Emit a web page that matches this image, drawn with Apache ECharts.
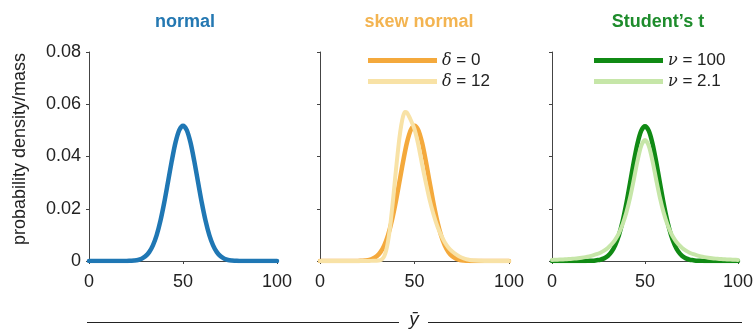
<!DOCTYPE html>
<html>
<head>
<meta charset="utf-8">
<script src="https://cdn.jsdelivr.net/npm/echarts@6/dist/echarts.min.js"></script>
<style>
    html, body { margin: 0; padding: 0; background: #fff; }
    #chart { width: 756px; height: 331px; }
</style>
</head>
<body>
<div id="chart"></div>
<script>
    // x grid (step 2) shared by most curves
    const xs = [0, 2, 4, 6, 8, 10, 12, 14, 16, 18, 20, 22, 24, 26, 28, 30, 32, 34, 36, 38, 40, 42, 44, 46, 48, 50,
        52, 54, 56, 58, 60, 62, 64, 66, 68, 70, 72, 74, 76, 78, 80, 82, 84, 86, 88, 90, 92, 94, 96, 98, 100];

    const normalY = [0, 0, 0, 0, 0, 0, 0, 0, 0, 0, 0, 0.0001, 0.0002, 0.0004, 0.0009, 0.0018, 0.0034, 0.0060, 0.0099, 0.0154,
        0.0223, 0.0302, 0.0382, 0.0453, 0.0501, 0.0518, 0.0501, 0.0453, 0.0382, 0.0302, 0.0223, 0.0154, 0.0099, 0.0060,
        0.0034, 0.0018, 0.0009, 0.0004, 0.0002, 0.0001, 0, 0, 0, 0, 0, 0, 0, 0, 0, 0, 0];

    const skew0Y = [0, 0, 0, 0, 0, 0, 0, 0, 0, 0, 0, 0.0001, 0.0002, 0.0004, 0.0009, 0.0018, 0.0034, 0.0060, 0.0099, 0.0154,
        0.0223, 0.0302, 0.0382, 0.0453, 0.0501, 0.0518, 0.0501, 0.0453, 0.0382, 0.0302, 0.0223, 0.0154, 0.0099, 0.0060,
        0.0034, 0.0018, 0.0009, 0.0004, 0.0002, 0.0001, 0, 0, 0, 0, 0, 0, 0, 0, 0, 0, 0];

    // skew normal delta = 12 has its own, denser x points round the peak
    const skew12X = [0, 10, 20, 26, 28, 30, 32, 33, 34, 35, 36, 37, 38, 39, 40, 41, 42, 43, 44, 45, 46, 47, 48,
        50, 52, 54, 56, 58, 60, 62, 64, 66, 68, 70, 72, 74, 76, 78, 80, 84, 90, 100];
    const skew12Y = [0, 0, 0, 0, 0.0001, 0.0001, 0.0003, 0.0008, 0.0018, 0.004, 0.0075, 0.0125, 0.019, 0.026, 0.0335,
        0.0405, 0.047, 0.052, 0.0555, 0.057, 0.0568, 0.0555, 0.054, 0.0505, 0.0445, 0.037, 0.030, 0.0234, 0.018, 0.0135,
        0.010, 0.0072, 0.0051, 0.0036, 0.0025, 0.0016, 0.001, 0.0006, 0.0003, 0.0001, 0, 0];

    const t100Y = [0, 0, 0, 0, 0, 0, 0, 0, 0, 0, 0.0001, 0.0001, 0.0003, 0.0005, 0.001, 0.0019, 0.0035, 0.0061, 0.0099, 0.0153,
        0.0221, 0.0300, 0.0380, 0.0451, 0.0499, 0.0516, 0.0499, 0.0451, 0.0380, 0.0300, 0.0221, 0.0153, 0.0099, 0.0061,
        0.0035, 0.0019, 0.001, 0.0005, 0.0003, 0.0001, 0.0001, 0, 0, 0, 0, 0, 0, 0, 0, 0, 0];

    const t21Y = [0.00041, 0.00046, 0.00053, 0.0006, 0.00068, 0.00079, 0.00091, 0.00106, 0.00125, 0.00148, 0.00177,
        0.00213, 0.00259, 0.00318, 0.00396, 0.0050, 0.00635, 0.0082, 0.0107, 0.0141, 0.0186, 0.0243, 0.0312, 0.0384,
        0.0441, 0.0463, 0.0441, 0.0384, 0.0312, 0.0243, 0.0186, 0.0141, 0.0107, 0.0082, 0.00635, 0.0050, 0.00396,
        0.00318, 0.00259, 0.00213, 0.00177, 0.00148, 0.00125, 0.00106, 0.00091, 0.00079, 0.00068, 0.0006, 0.00053,
        0.00046, 0.00041];

    const xTicks = [0, 50, 100];
    const titles = ['normal', 'skew normal', 'Student\u2019s t'];

    const FONT = 'Liberation Sans, Arial, sans-serif';
    const AXIS = '#444';

    function pairs(x, y) {
        return x.map((v, i) => [v, y[i]]);
    }

    const grids = [
        {left: 89, top: 52, width: 188, height: 209},
        {left: 320, top: 52, width: 189, height: 209},
        {left: 552, top: 52, width: 188, height: 209}
    ];

    const xAxes = grids.map((g, i) => ({
        type: 'value', gridIndex: i, min: 0, max: 100, interval: 50,
        axisLine: {lineStyle: {color: AXIS, width: 1}},
        axisTick: {length: 3, lineStyle: {color: AXIS}},
        axisLabel: {fontSize: 18, color: '#222', fontFamily: FONT, margin: 12,
            formatter: v => xTicks.indexOf(v) >= 0 ? String(v) : ''},
        splitLine: {show: false}
    }));

    const yAxes = grids.map((g, i) => ({
        type: 'value', gridIndex: i, min: 0, max: 0.08, interval: 0.02,
        axisLine: {show: true, lineStyle: {color: AXIS, width: 1}},
        axisTick: {show: true, length: 3, lineStyle: {color: AXIS}},
        axisLabel: {show: i === 0, fontSize: 18, color: '#222', fontFamily: FONT, margin: 8},
        splitLine: {show: false}
    }));

    function curve(name, i, data, color, width, z) {
        return {
            name: name, type: 'line', xAxisIndex: i, yAxisIndex: i,
            data: data, showSymbol: false, smooth: 0.3, z: z,
            lineStyle: {color: color, width: width, cap: 'round', join: 'round'},
            itemStyle: {color: color},
            emphasis: {disabled: true}
        };
    }

    const C = {
        normal: '#1f77b4',
        skew0: '#f4a93c',
        skew12: '#f8e2a6',
        t100: '#108a14',
        t21: '#c6e6a8'
    };

    function legend(left, names) {
        return {
            left: left, top: 47, orient: 'vertical', selectedMode: false,
            data: names, icon: 'rect', itemWidth: 69, itemHeight: 5, itemGap: 4,
            textStyle: {fontSize: 17, color: '#222', fontFamily: FONT,
                rich: {i: {fontStyle: 'italic', fontFamily: 'DejaVu Serif, serif', fontSize: 16, color: '#222'}}},
            formatter: n => n.replace(/^([\u03b4\u03bd])/, '{i|$1}')
        };
    }

    const chart = echarts.init(document.getElementById('chart'), null, {renderer: 'canvas'});
    chart.setOption({
        animation: false,
        title: titles.map((t, i) => ({
            text: t, left: [180, 414, 653][i], top: 8, textAlign: 'center',
            textStyle: {fontSize: 18, fontWeight: 'bold', fontFamily: FONT,
                color: ['#2478b2', '#f3b451', '#1e8c2c'][i]}
        })),
        grid: grids,
        xAxis: xAxes,
        yAxis: yAxes,
        legend: [
            legend(363, ['\u03b4 = 0', '\u03b4 = 12']),
            legend(589, ['\u03bd = 100', '\u03bd = 2.1'])
        ],
        series: [
            curve('normal', 0, pairs(xs, normalY), C.normal, 4.5, 3),
            curve('\u03b4 = 0', 1, pairs(xs, skew0Y), C.skew0, 4.5, 3),
            curve('\u03b4 = 12', 1, pairs(skew12X, skew12Y), C.skew12, 4, 4),
            curve('\u03bd = 100', 2, pairs(xs, t100Y), C.t100, 4.5, 3),
            curve('\u03bd = 2.1', 2, pairs(xs, t21Y), C.t21, 4, 4)
        ],
        graphic: [
            {type: 'text', x: 20, y: 149, rotation: Math.PI / 2,
                style: {text: 'probability density/mass', fontSize: 18, fontFamily: FONT, fill: '#222',
                    align: 'center', verticalAlign: 'middle'}},
            {type: 'line', shape: {x1: 87, y1: 322.5, x2: 399, y2: 322.5}, style: {stroke: '#222', lineWidth: 1}},
            {type: 'line', shape: {x1: 428, y1: 322.5, x2: 742, y2: 322.5}, style: {stroke: '#222', lineWidth: 1}},
            {type: 'text', x: 414, y: 320,
                style: {text: '\u0233', fontSize: 19, fontStyle: 'italic', fontFamily: FONT, fill: '#222',
                    align: 'center', verticalAlign: 'middle'}}
        ]
    });
</script>
</body>
</html>
